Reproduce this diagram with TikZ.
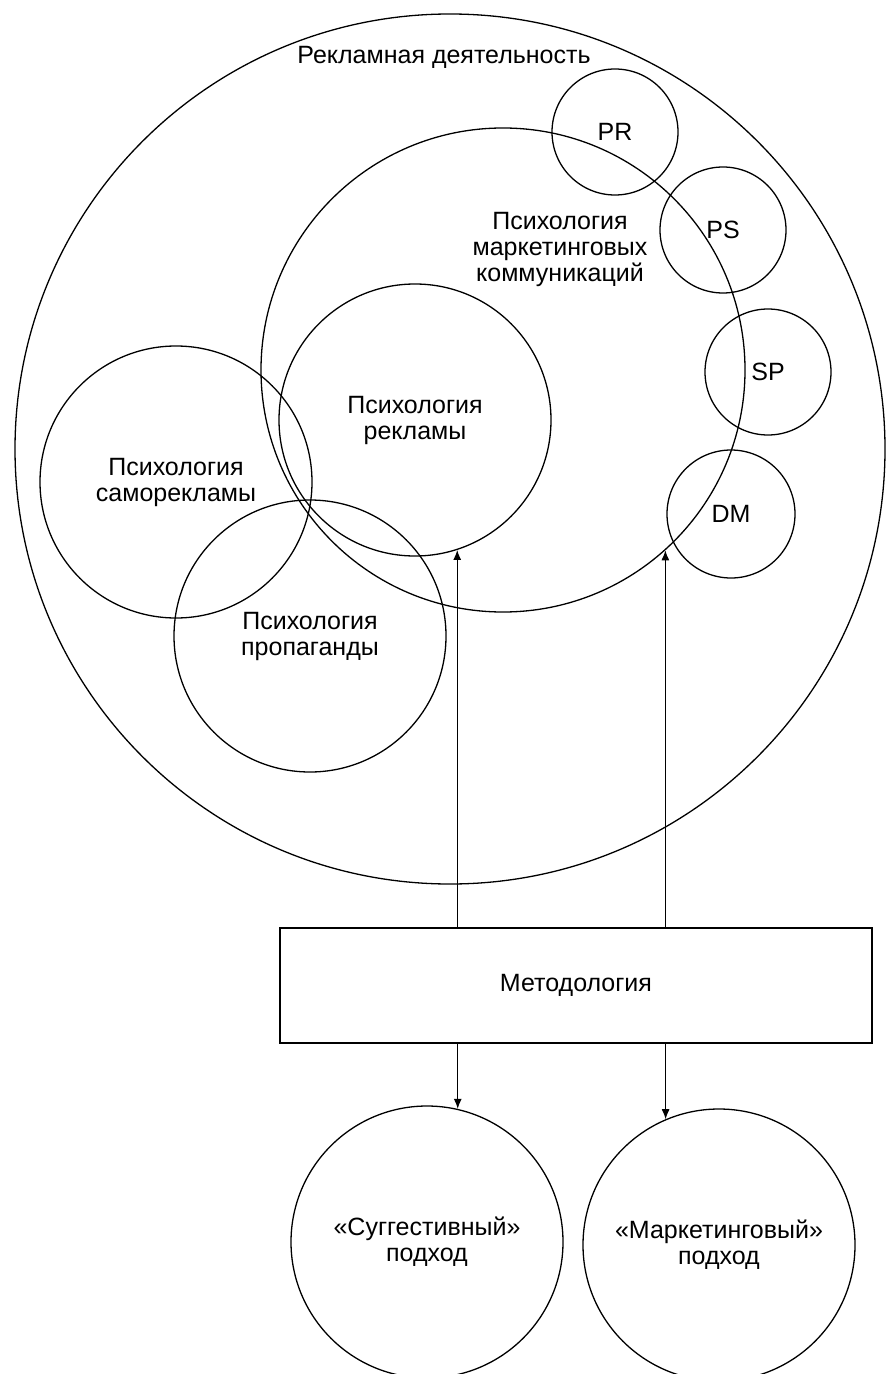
\documentclass[tikz,border=0pt]{standalone}
\usepackage{fontspec}
\setmainfont{Liberation Sans}
\usetikzlibrary{positioning}
\usetikzlibrary{arrows.meta}
\tikzset{krug/.style={draw, circle, inner sep=0pt, align=center, line width=0.65pt},
    blok/.style={draw, rectangle, line width=0.65pt, minimum width=296pt, minimum height=57.5pt},
    strel/.style={-{Latex[length=5pt, width=4pt]}, line width=0.6pt}}

\begin{document}
\begin{tikzpicture}[x=0.5pt, y=-0.5pt, font=\fontsize{12.5}{13}\selectfont]
    \useasboundingbox (0,0) rectangle (888,1374);
    \node[krug, minimum size=435pt] (rd) at (450,449) {};
    \node (rdtxt) at (444,57) {Рекламная деятельность};
    \node[krug, minimum size=242pt] (pmk) at (503,370) {};
    \node[align=center] (pmktxt) at (560,249) {Психология\\маркетинговых\\коммуникаций};
    \node[krug, minimum size=136pt] (pr) at (415,420) {Психология\\рекламы};
    \node[krug, minimum size=136pt] (ps) at (176,482) {Психология\\саморекламы};
    \node[krug, minimum size=136pt] (pp) at (310,636) {Психология\\пропаганды};
    \node[krug, minimum size=63pt] (PR) at (615,132) {PR};
    \node[krug, minimum size=63pt] (PS) at (723,230) {PS};
    \node[krug, minimum size=63pt] (SP) at (768,372) {SP};
    \node[krug, minimum size=64pt] (DM) at (731,514) {DM};
    \node[blok] (met) at (576,985.5) {Методология};
    \node[krug, minimum size=136pt] (sug) at (427,1242) {«Суггестивный»\\подход};
    \node[krug, minimum size=136pt] (mar) at (719,1245) {«Маркетинговый»\\подход};
    \draw[strel] (pr.-72.5 |- met.north) -- (pr.-72.5);
    \draw[strel] (pmk.-48 |- met.north) -- (pmk.-48);
    \draw[strel] (sug.77.7 |- met.south) -- (sug.77.7);
    \draw[strel] (mar.113 |- met.south) -- (mar.113);
\end{tikzpicture}
\end{document}
